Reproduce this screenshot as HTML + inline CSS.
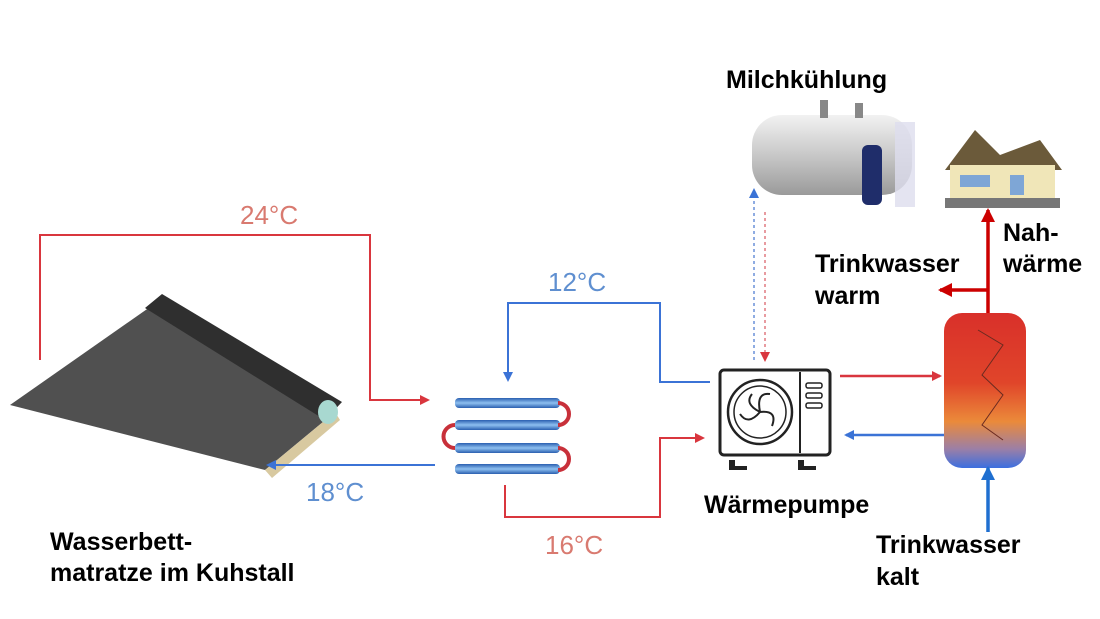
<!DOCTYPE html>
<html><head><meta charset="utf-8"><style>
html,body{margin:0;padding:0;background:#fff;}
svg{display:block;}
.b{font-family:"Liberation Sans",sans-serif;font-weight:bold;font-size:25px;fill:#000;}
.t{font-family:"Liberation Sans",sans-serif;font-size:26px;}
</style></head><body>
<svg width="1100" height="619" viewBox="0 0 1100 619" xmlns="http://www.w3.org/2000/svg">
<defs>
<marker id="ar" markerWidth="10" markerHeight="10" refX="8" refY="5" orient="auto" markerUnits="userSpaceOnUse"><path d="M0,0 L10,5 L0,10 z" fill="#d9363e"/></marker>
<marker id="ab" markerWidth="10" markerHeight="10" refX="8" refY="5" orient="auto" markerUnits="userSpaceOnUse"><path d="M0,0 L10,5 L0,10 z" fill="#3b73d6"/></marker>
<marker id="ar2" markerWidth="14" markerHeight="14" refX="12" refY="7" orient="auto" markerUnits="userSpaceOnUse"><path d="M0,0 L14,7 L0,14 z" fill="#cc0000"/></marker>
<marker id="ab2" markerWidth="14" markerHeight="14" refX="12" refY="7" orient="auto" markerUnits="userSpaceOnUse"><path d="M0,0 L14,7 L0,14 z" fill="#1f6fd0"/></marker>
<linearGradient id="tank" x1="0" y1="0" x2="0" y2="1">
<stop offset="0" stop-color="#d9302a"/><stop offset="0.45" stop-color="#e0452a"/><stop offset="0.7" stop-color="#eb8a3a"/><stop offset="0.88" stop-color="#9a7fa8"/><stop offset="1" stop-color="#3d6fe0"/></linearGradient>
<linearGradient id="milk" x1="0" y1="0" x2="0" y2="1"><stop offset="0" stop-color="#f2f2f2"/><stop offset="0.5" stop-color="#c8c8c8"/><stop offset="1" stop-color="#9a9a9a"/></linearGradient>
<linearGradient id="pipe" x1="0" y1="0" x2="0" y2="1"><stop offset="0" stop-color="#2a5fb0"/><stop offset="0.5" stop-color="#8ec0f0"/><stop offset="1" stop-color="#2a5fb0"/></linearGradient>
</defs>

<!-- mat -->
<polygon points="10,405 160,300 335,412 265,470" fill="#505050"/>
<polygon points="265,470 335,412 340,420 272,478" fill="#d8c9a0"/>
<polygon points="145,308 162,294 342,402 325,420" fill="#2f2f2f"/>
<ellipse cx="328" cy="412" rx="10" ry="12" fill="#a8d8d0"/>

<polyline points="40,360 40,235 370,235 370,400 428,400" fill="none" stroke="#d9363e" stroke-width="2" marker-end="url(#ar)"/>
<text x="240" y="224" class="t" fill="#d97a70">24°C</text>
<line x1="435" y1="465" x2="268" y2="465" stroke="#3b73d6" stroke-width="2" marker-end="url(#ab)"/>
<text x="306" y="501" class="t" fill="#5f8fd0">18°C</text>
<polyline points="505,485 505,517 660,517 660,438 703,438" fill="none" stroke="#d9363e" stroke-width="2" marker-end="url(#ar)"/>
<text x="545" y="554" class="t" fill="#d97a70">16°C</text>
<polyline points="710,382 660,382 660,303 508,303 508,380" fill="none" stroke="#3b73d6" stroke-width="2" marker-end="url(#ab)"/>
<text x="548" y="291" class="t" fill="#5f8fd0">12°C</text>

<g>
<rect x="455" y="398" width="105" height="10" rx="4" fill="url(#pipe)"/>
<rect x="455" y="420" width="105" height="10" rx="4" fill="url(#pipe)"/>
<rect x="455" y="443" width="105" height="10" rx="4" fill="url(#pipe)"/>
<rect x="455" y="464" width="105" height="10" rx="4" fill="url(#pipe)"/>
<path d="M558,403 a11,11 0 0 1 0,22" fill="none" stroke="#c8303a" stroke-width="4"/>
<path d="M558,448 a11,11 0 0 1 0,22" fill="none" stroke="#c8303a" stroke-width="4"/>
<path d="M455,425 a11,11 0 0 0 0,23" fill="none" stroke="#c8303a" stroke-width="4"/>
</g>

<rect x="720" y="370" width="110" height="85" rx="4" fill="#fff" stroke="#222" stroke-width="3"/>
<line x1="800" y1="372" x2="800" y2="453" stroke="#222" stroke-width="2"/>
<circle cx="760" cy="412" r="32" fill="none" stroke="#222" stroke-width="2.5"/>
<circle cx="760" cy="412" r="26" fill="none" stroke="#222" stroke-width="1.5"/>
<path d="M760,412 q-4,-20 10,-18 M760,412 q18,-2 12,14 M760,412 q-12,14 -20,2 M760,412 q-16,-8 -8,-18" fill="none" stroke="#222" stroke-width="2"/>
<rect x="806" y="383" width="16" height="5" rx="2" fill="none" stroke="#222" stroke-width="1.5"/>
<rect x="806" y="393" width="16" height="5" rx="2" fill="none" stroke="#222" stroke-width="1.5"/>
<rect x="806" y="403" width="16" height="5" rx="2" fill="none" stroke="#222" stroke-width="1.5"/>
<path d="M729,470 v-10 h6 v6 h12 v4 z M798,470 v-10 h6 v6 h12 v4 z" fill="#222"/>
<text x="704" y="513" class="b">Wärmepumpe</text>

<text x="726" y="88" class="b">Milchkühlung</text>
<rect x="752" y="115" width="160" height="80" rx="30" fill="url(#milk)"/>
<rect x="862" y="145" width="20" height="60" rx="6" fill="#1f2d6a"/>
<rect x="895" y="122" width="20" height="85" fill="#dde" opacity="0.8"/>
<rect x="820" y="100" width="8" height="18" fill="#888"/><rect x="855" y="103" width="8" height="15" fill="#888"/>
<line x1="754" y1="360" x2="754" y2="190" stroke="#6a90d8" stroke-width="1.5" stroke-dasharray="3,3" marker-end="url(#ab)"/>
<line x1="765" y1="212" x2="765" y2="360" stroke="#e07a80" stroke-width="1.5" stroke-dasharray="3,3" marker-end="url(#ar)"/>

<line x1="840" y1="376" x2="940" y2="376" stroke="#d9363e" stroke-width="2.5" marker-end="url(#ar)"/>
<line x1="945" y1="435" x2="846" y2="435" stroke="#3b73d6" stroke-width="2.5" marker-end="url(#ab)"/>

<rect x="944" y="313" width="82" height="155" rx="18" fill="url(#tank)"/>
<polyline points="978,330 1003,345 982,375 1003,395 982,425 1003,440" fill="none" stroke="#6a2a20" stroke-width="1"/>

<polygon points="945,170 975,130 1000,155 1040,140 1062,170" fill="#6b5a3a"/>
<rect x="950" y="165" width="105" height="35" fill="#f0e6b8"/>
<rect x="960" y="175" width="30" height="12" fill="#7ea6d6"/>
<rect x="1010" y="175" width="14" height="20" fill="#7ea6d6"/>
<rect x="945" y="198" width="115" height="10" fill="#777"/>

<line x1="988" y1="313" x2="988" y2="210" stroke="#cc0000" stroke-width="3.5" marker-end="url(#ar2)"/>
<line x1="988" y1="290" x2="940" y2="290" stroke="#cc0000" stroke-width="3.5" marker-end="url(#ar2)"/>
<line x1="988" y1="532" x2="988" y2="468" stroke="#1f6fd0" stroke-width="3.5" marker-end="url(#ab2)"/>

<text x="1003" y="241" class="b">Nah-</text>
<text x="1003" y="272" class="b">wärme</text>
<text x="815" y="272" class="b">Trinkwasser</text>
<text x="815" y="304" class="b">warm</text>
<text x="876" y="553" class="b">Trinkwasser</text>
<text x="876" y="585" class="b">kalt</text>
<text x="50" y="550" class="b">Wasserbett-</text>
<text x="50" y="581" class="b">matratze im Kuhstall</text>
</svg>
</body></html>
